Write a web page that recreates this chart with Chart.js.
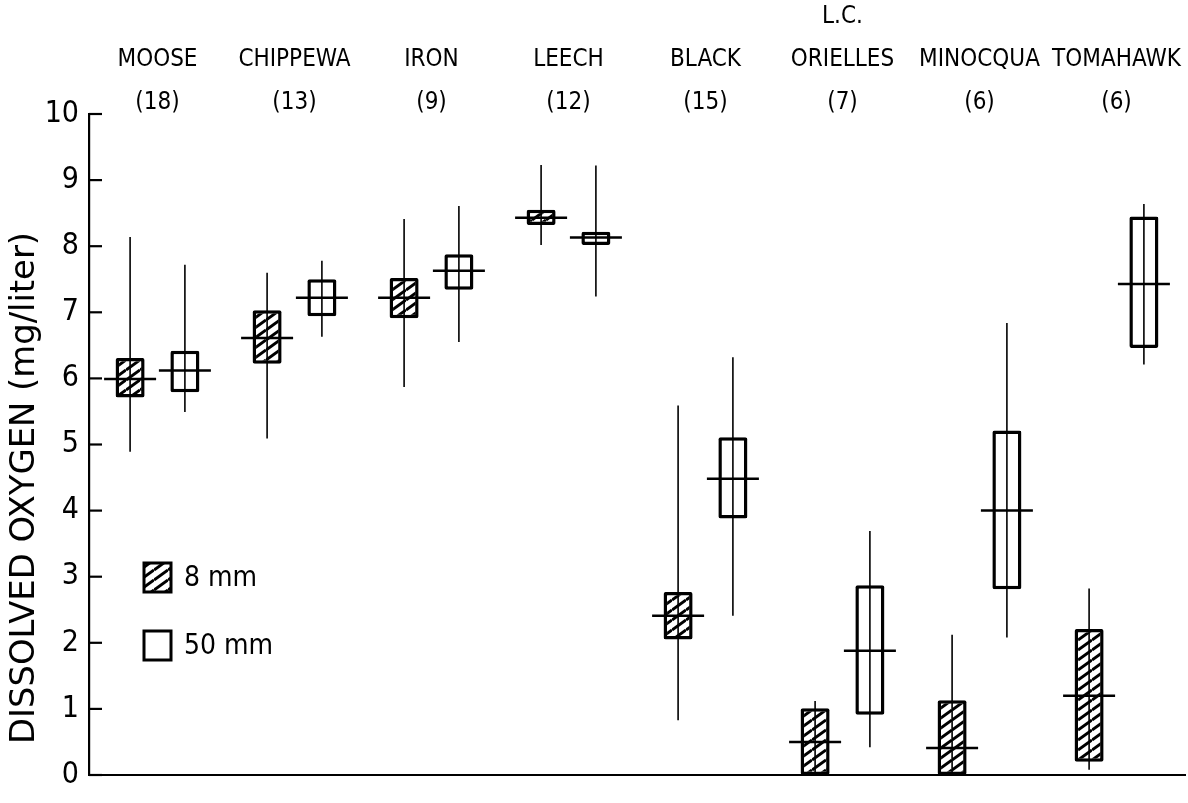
<!DOCTYPE html>
<html>
<head>
<meta charset="utf-8">
<script src="https://cdn.jsdelivr.net/npm/chart.js@4.4.1/dist/chart.umd.min.js"></script>
<style>
html,body{margin:0;padding:0;background:#fff;}
#wrap{width:1188px;height:803px;position:relative;}
</style>
</head>
<body>
<div id="wrap"><canvas id="c" width="1188" height="803"></canvas></div>
<script>
// ---------- data ----------
const lakeNames = [['MOOSE'], ['CHIPPEWA'], ['IRON'], ['LEECH'], ['BLACK'], ['L.C.', 'ORIELLES'], ['MINOCQUA'], ['TOMAHAWK']];
const sampleCounts = [18, 13, 9, 12, 15, 7, 6, 6];
const yTickValues = [0, 1, 2, 3, 4, 5, 6, 7, 8, 9, 10];
const seriesLabels = ['8 mm', '50 mm'];
const yTitle = 'DISSOLVED OXYGEN (mg/liter)';

// 8 mm depth
const min8 = [4.89, 5.09, 5.87, 8.02, 0.83, 0.00, 0.00, 0.08];
const q1_8 = [5.71, 6.22, 6.91, 8.32, 2.05, 0.00, 0.00, 0.20];
const med8 = [5.99, 6.61, 7.22, 8.43, 2.41, 0.50, 0.41, 1.20];
const q3_8 = [6.31, 7.03, 7.52, 8.55, 2.77, 1.01, 1.13, 2.21];
const max8 = [8.14, 7.60, 8.41, 9.23, 5.59, 1.12, 2.12, 2.82];

// 50 mm depth
const min50 = [5.49, 6.63, 6.55, 7.24, 2.41, 0.42, 2.08, 6.21];
const q1_50 = [5.79, 6.94, 7.34, 8.02, 3.88, 0.91, 2.81, 6.46];
const med50 = [6.12, 7.22, 7.63, 8.13, 4.48, 1.88, 4.00, 7.43];
const q3_50 = [6.42, 7.50, 7.88, 8.22, 5.11, 2.87, 5.21, 8.45];
const max50 = [7.72, 7.78, 8.61, 9.22, 6.32, 3.69, 6.84, 8.64];

// ---------- styling helpers ----------
const FONT = "'DejaVu Sans Condensed', 'DejaVu Sans', sans-serif";

function makeHatch() {
  const w = 14, h = 10;
  const c = document.createElement('canvas');
  c.width = w; c.height = h;
  const g = c.getContext('2d');
  g.fillStyle = '#fff';
  g.fillRect(0, 0, w, h);
  g.strokeStyle = '#000';
  g.lineWidth = 3;
  for (let n = -1; n <= 1; n++) {
    g.beginPath();
    g.moveTo(0, h + n * h);
    g.lineTo(w, n * h);
    g.stroke();
  }
  return g.createPattern(c, 'repeat');
}
const hatch = makeHatch();

const labels = lakeNames.map((nm, i) => nm.concat(['(' + sampleCounts[i] + ')']));
const boxes8 = q1_8.map((v, i) => [v, q3_8[i]]);
const boxes50 = q1_50.map((v, i) => [v, q3_50[i]]);
const stats = [[min8, med8, max8], [min50, med50, max50]];

const extras = {
  id: 'extras',
  afterDatasetsDraw(chart) {
    const ctx = chart.ctx;
    const ys = chart.scales.y;
    ctx.save();
    ctx.strokeStyle = '#000';
    ctx.lineCap = 'butt';
    chart.data.datasets.forEach((ds, di) => {
      const meta = chart.getDatasetMeta(di);
      const [mn, md, mx] = stats[di];
      meta.data.forEach((bar, j) => {
        const x = bar.x;
        ctx.lineWidth = 1.6;
        ctx.beginPath();
        ctx.moveTo(x, ys.getPixelForValue(mn[j]));
        ctx.lineTo(x, ys.getPixelForValue(mx[j]));
        ctx.stroke();
        const half = 26;
        const ym = ys.getPixelForValue(md[j]);
        ctx.lineWidth = 2.5;
        ctx.beginPath();
        ctx.moveTo(x - half, ym);
        ctx.lineTo(x + half, ym);
        ctx.stroke();
      });
    });
    ctx.restore();
  },
  afterDraw(chart) {
    const ctx = chart.ctx;
    const ys = chart.scales.y;
    ctx.save();
    // inward ticks on y axis
    ctx.strokeStyle = '#000';
    ctx.lineWidth = 2.2;
    ys.ticks.forEach(t => {
      const py = ys.getPixelForValue(t.value);
      ctx.beginPath();
      ctx.moveTo(ys.right, py);
      ctx.lineTo(ys.right + 13, py);
      ctx.stroke();
    });
    // legend
    const items = [
      {x: 144, y: 563, w: 27, h: 29},
      {x: 144, y: 631, w: 27, h: 29}
    ];
    chart.data.datasets.forEach((ds, i) => {
      const it = items[i];
      ctx.fillStyle = ds.backgroundColor;
      ctx.fillRect(it.x, it.y, it.w, it.h);
      ctx.lineWidth = 3;
      ctx.strokeStyle = '#000';
      ctx.strokeRect(it.x, it.y, it.w, it.h);
      ctx.fillStyle = '#000';
      ctx.font = '28px ' + FONT;
      ctx.textAlign = 'left';
      ctx.textBaseline = 'middle';
      ctx.fillText(ds.label, it.x + it.w + 13, it.y + it.h / 2 + 1);
    });
    // y axis title
    ctx.translate(25, 488);
    ctx.rotate(-Math.PI / 2);
    ctx.font = '34px ' + FONT;
    const w = ctx.measureText(yTitle).width;
    ctx.scale(512 / w, 1);
    ctx.fillStyle = '#000';
    ctx.textAlign = 'center';
    ctx.textBaseline = 'middle';
    ctx.fillText(yTitle, 0, 0);
    ctx.restore();
  }
};

new Chart(document.getElementById('c'), {
  type: 'bar',
  data: {
    labels: labels,
    datasets: [
      {
        label: seriesLabels[0],
        data: boxes8,
        backgroundColor: hatch,
        borderColor: '#000',
        borderWidth: 3.5,
        borderSkipped: false,
        borderRadius: 2,
        barPercentage: 0.53,
        categoryPercentage: 0.8
      },
      {
        label: seriesLabels[1],
        data: boxes50,
        backgroundColor: '#fff',
        borderColor: '#000',
        borderWidth: 3.5,
        borderSkipped: false,
        borderRadius: 2,
        barPercentage: 0.53,
        categoryPercentage: 0.8
      }
    ]
  },
  options: {
    responsive: false,
    animation: false,
    devicePixelRatio: 1,
    layout: {padding: {left: 0, right: 3, top: 0, bottom: 8}},
    plugins: {
      legend: {display: false},
      tooltip: {enabled: false},
      title: {display: false}
    },
    scales: {
      x: {
        type: 'category',
        position: 'top',
        offset: true,
        grid: {display: false, drawTicks: false},
        border: {display: false},
        ticks: {
          color: '#000',
          font: {family: FONT, size: 24, lineHeight: 1.8},
          padding: -10.5,
          autoSkip: false,
          maxRotation: 0,
          minRotation: 0
        },
        afterFit: s => { s.height = 114; }
      },
      x2: {
        type: 'category',
        position: 'bottom',
        offset: true,
        grid: {display: false, drawTicks: false},
        border: {display: true, color: '#000', width: 2},
        ticks: {display: false},
        afterFit: s => { s.height = 0; }
      },
      y: {
        type: 'linear',
        min: 0,
        max: 10,
        grid: {display: false, drawTicks: false},
        border: {display: true, color: '#000', width: 2.2},
        afterBuildTicks: s => { s.ticks = yTickValues.map(v => ({value: v})); },
        ticks: {
          color: '#000',
          font: {family: FONT, size: 30},
          padding: 10
        },
        title: {display: false},
        afterFit: s => { s.width = 89; }
      }
    }
  },
  plugins: [extras]
});
</script>
</body>
</html>
